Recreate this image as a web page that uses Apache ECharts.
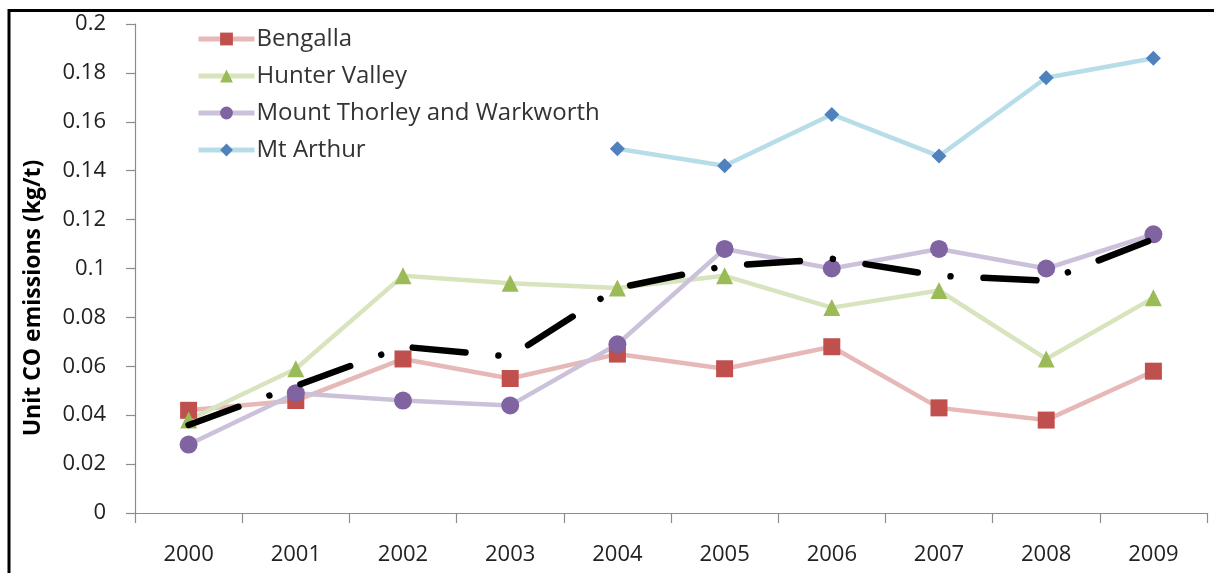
<!DOCTYPE html>
<html>
<head>
<meta charset="utf-8">
<script src="https://cdn.jsdelivr.net/npm/echarts@6/dist/echarts.min.js"></script>
<style>
  html, body { margin: 0; padding: 0; background: #fff; }
  #chart { width: 1214px; height: 573px; }
</style>
</head>
<body>
<div id="chart"></div>
<script>
// Unit CO emissions per mine, 2000-2009 (kg/t)
const years = ['2000', '2001', '2002', '2003', '2004', '2005', '2006', '2007', '2008', '2009'];
const bengalla = [0.042, 0.046, 0.063, 0.055, 0.065, 0.059, 0.068, 0.043, 0.038, 0.058];
const hunterValley = [0.038, 0.059, 0.097, 0.094, 0.092, 0.097, 0.084, 0.091, 0.063, 0.088];
const mountThorley = [0.028, 0.049, 0.046, 0.044, 0.069, 0.108, 0.100, 0.108, 0.100, 0.114];
const mtArthur = [null, null, null, null, 0.149, 0.142, 0.163, 0.146, 0.178, 0.186];
const average = [0.036, 0.052, 0.068, 0.064, 0.092, 0.101, 0.104, 0.097, 0.095, 0.112];
const yTicks = { min: 0, max: 0.2, step: 0.02 };

const FONT = '"Open Sans", Lato, sans-serif';

function mineSeries(name, values, symbol, size, markerColor, lineColor) {
  return {
    name: name,
    type: 'line',
    data: values,
    symbol: symbol,
    symbolSize: size,
    showAllSymbol: true,
    connectNulls: false,
    itemStyle: { color: markerColor, borderWidth: 0 },
    lineStyle: { color: lineColor, width: 4.5 },
    emphasis: { disabled: true },
    z: 2
  };
}

const chart = echarts.init(document.getElementById('chart'), null, { renderer: 'canvas' });

chart.setOption({
  animation: false,
  backgroundColor: '#ffffff',
  grid: { left: 135, right: 7, top: 24, bottom: 60, containLabel: false },
  legend: {
    data: ['Bengalla', 'Hunter Valley', 'Mount Thorley and Warkworth', 'Mt Arthur'],
    orient: 'vertical',
    left: 191,
    top: 22,
    itemWidth: 56,
    itemHeight: 16,
    itemGap: 13,
    lineStyle: { width: 5 },
    textStyle: { fontFamily: FONT, fontSize: 24, color: '#333333', padding: [0, 0, 0, -3] },
    selectedMode: false
  },
  xAxis: {
    type: 'category',
    data: years,
    boundaryGap: true,
    axisLine: { lineStyle: { color: '#8c8c8c', width: 1.2 } },
    axisTick: { show: true, length: 10, inside: false, lineStyle: { color: '#8c8c8c', width: 1.2 } },
    axisLabel: { margin: 31, fontFamily: FONT, fontSize: 22, color: '#222222' },
    splitLine: { show: false }
  },
  yAxis: {
    type: 'value',
    min: yTicks.min,
    max: yTicks.max,
    interval: yTicks.step,
    axisLine: { show: true, lineStyle: { color: '#8c8c8c', width: 1.2 } },
    axisTick: { show: true, length: 9, inside: false, lineStyle: { color: '#8c8c8c', width: 1.2 } },
    axisLabel: {
      margin: 29,
      fontFamily: FONT,
      fontSize: 22,
      color: '#222222',
      formatter: function (v) { return String(Math.round(v * 100) / 100); }
    },
    splitLine: { show: false }
  },
  graphic: [
    {
      type: 'text',
      rotation: Math.PI / 2,
      x: 33,
      y: 298,
      style: {
        text: 'Unit CO emissions (kg/t)',
        font: 'bold 23px ' + FONT,
        fill: '#000000',
        align: 'center',
        verticalAlign: 'middle'
      },
      z: 10
    },
    {
      type: 'line',
      shape: { x1: 8, y1: 10.5, x2: 1214, y2: 10.5 },
      style: { stroke: '#000000', lineWidth: 3 },
      z: 10
    },
    {
      type: 'line',
      shape: { x1: 9, y1: 9, x2: 9, y2: 573 },
      style: { stroke: '#000000', lineWidth: 3 },
      z: 10
    }
  ],
  series: [
    mineSeries('Bengalla', bengalla, 'rect', 17, '#C0504D', '#E6B9B8'),
    mineSeries('Hunter Valley', hunterValley, 'triangle', 17, '#9BBB59', '#D7E4BD'),
    mineSeries('Mount Thorley and Warkworth', mountThorley, 'circle', 18, '#8064A2', '#CCC1DA'),
    mineSeries('Mt Arthur', mtArthur, 'diamond', 15, '#4F81BD', '#B7DDE8'),
    {
      name: 'Average',
      type: 'line',
      data: average,
      symbol: 'none',
      lineStyle: { color: '#000000', width: 6.5, type: [53, 33, 0.01, 33], cap: 'round', join: 'round' },
      emphasis: { disabled: true },
      z: 3
    }
  ]
});
</script>
</body>
</html>
